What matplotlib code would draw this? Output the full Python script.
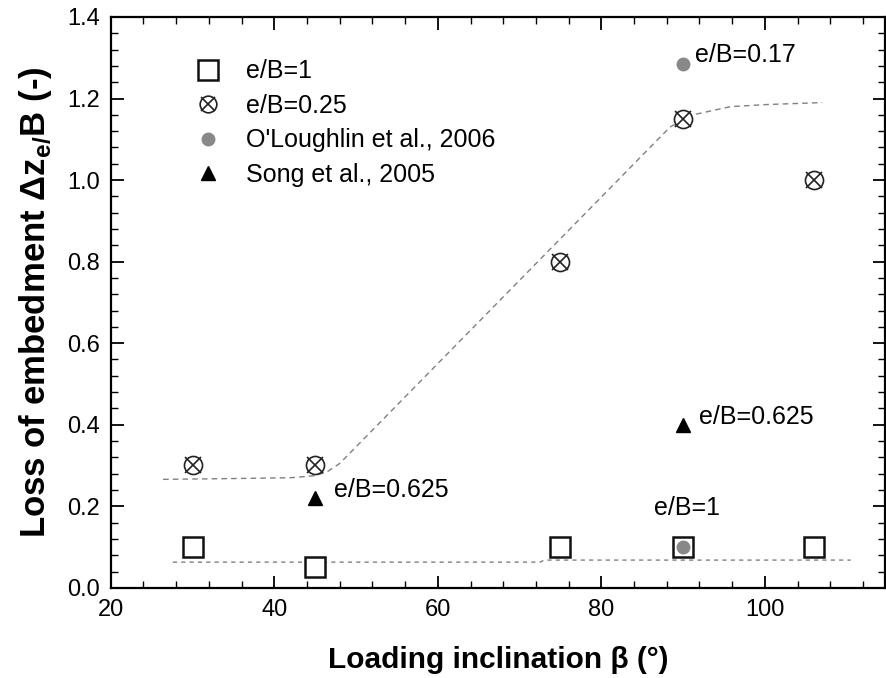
import matplotlib
matplotlib.use('Agg')
import matplotlib.pyplot as plt
from matplotlib.ticker import MultipleLocator, FormatStrFormatter
from matplotlib.lines import Line2D

plt.rcParams['font.family'] = ['Liberation Sans', 'DejaVu Sans']
plt.rcParams['mathtext.fontset'] = 'custom'
plt.rcParams['mathtext.rm'] = 'Liberation Sans'
plt.rcParams['mathtext.bf'] = 'Liberation Sans:bold'

# e/B = 1 (squares)
beta_eb1 = [30, 45, 75, 90, 106]
dz_eb1 = [0.10, 0.05, 0.10, 0.10, 0.10]

# e/B = 0.25 (crossed circles)
beta_eb025 = [30, 45, 75, 90, 106]
dz_eb025 = [0.30, 0.30, 0.80, 1.15, 1.00]

# O'Loughlin et al., 2006
beta_olo = [90, 90]
dz_olo = [1.285, 0.10]

# Song et al., 2005
beta_song = [45, 90]
dz_song = [0.22, 0.40]

# dashed trend lines
trend_hi_x = [26.4, 35, 42, 45, 46.5, 48, 88.4, 91.2, 95.8, 100, 107]
trend_hi_y = [0.266, 0.268, 0.27, 0.275, 0.285, 0.305, 1.13, 1.16, 1.18, 1.185, 1.19]
trend_lo_x = [27.6, 72.5, 73, 110.5]
trend_lo_y = [0.063, 0.063, 0.068, 0.068]

fig = plt.figure(figsize=(8.86, 6.78), dpi=100)
ax = fig.add_axes([0.125, 0.133, 0.874, 0.842])

ax.plot(trend_hi_x, trend_hi_y, ls=(0, (4, 3)), color='#808080', lw=1)
ax.plot(trend_lo_x, trend_lo_y, ls=(0, (3, 3)), color='#808080', lw=1)

ax.plot(beta_eb1, dz_eb1, 's', ms=14.5, mfc='white', mec='#111111', mew=1.8, ls='none')
ax.plot(beta_eb025, dz_eb025, 'o', ms=13, mfc='white', mec='#222222', mew=1.2, ls='none')
ax.plot(beta_eb025, dz_eb025, 'x', ms=11, mec='#222222', mew=1.2, ls='none')
ax.plot(beta_olo, dz_olo, 'o', ms=9, color='#888888', ls='none')
ax.plot(beta_song, dz_song, '^', ms=10, color='black', ls='none')

ax.text(91.4, 1.307, 'e/B=0.17', fontsize=18, va='center')
ax.text(47.3, 0.24, 'e/B=0.625', fontsize=18, va='center')
ax.text(92.0, 0.42, 'e/B=0.625', fontsize=18, va='center')
ax.text(90.5, 0.195, 'e/B=1', fontsize=18, va='center', ha='center')

handles = [
    Line2D([], [], marker='s', ms=15, mfc='white', mec='#111111', mew=1.8, ls='none'),
    (Line2D([], [], marker='o', ms=12, mfc='white', mec='#222222', mew=1.2, ls='none'),
     Line2D([], [], marker='x', ms=10, mec='#222222', mew=1.2, ls='none')),
    Line2D([], [], marker='o', ms=9, color='#888888', ls='none'),
    Line2D([], [], marker='^', ms=10, color='black', ls='none'),
]
labels = ['e/B=1', 'e/B=0.25', "O'Loughlin et al., 2006", 'Song et al., 2005']
ax.legend(handles, labels, loc='upper left', bbox_to_anchor=(0.081, 0.965), frameon=False,
          fontsize=18, labelspacing=0.42, handlelength=1.0, handletextpad=1.0)

ax.set_xlim(20, 114.7)
ax.set_ylim(0, 1.4)
ax.xaxis.set_major_locator(MultipleLocator(20))
ax.xaxis.set_minor_locator(MultipleLocator(4))
ax.yaxis.set_major_locator(MultipleLocator(0.2))
ax.yaxis.set_minor_locator(MultipleLocator(0.04))
ax.yaxis.set_major_formatter(FormatStrFormatter('%.1f'))
ax.tick_params(which='both', direction='in', top=True, right=True, labelsize=17, pad=8)
ax.tick_params(which='major', length=9, width=1.3)
ax.tick_params(which='minor', length=5, width=1.0)
for s in ax.spines.values():
    s.set_linewidth(1.6)

ax.set_xlabel('Loading inclination β (°)', fontsize=21.5, fontweight='bold', labelpad=18)
ax.set_ylabel(r'Loss of embedment Δz$_{\mathbf{e/}}$B (-)', fontsize=25, fontweight='bold', labelpad=9)

plt.savefig('out.png', dpi=100)
